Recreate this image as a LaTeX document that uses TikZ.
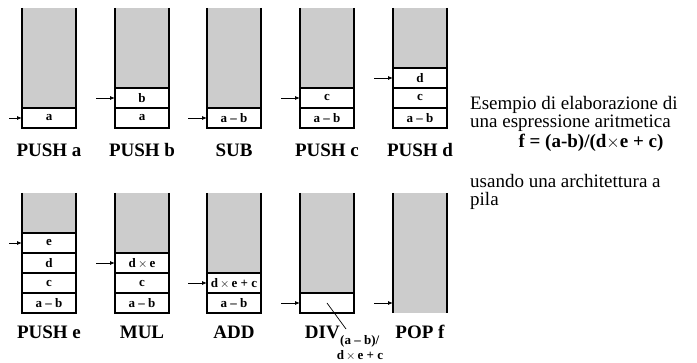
\documentclass[tikz,border=0pt]{standalone}
\usepackage{fontspec}
\setmainfont{Liberation Serif}
\usetikzlibrary{arrows.meta,positioning}

\tikzset{
  bordo/.style={line width=1.2pt},
  grigio/.style={fill=black!20},
  cella/.style={draw, bordo, minimum width=54pt, minimum height=20pt,
    inner sep=0pt, outer sep=0pt, font=\bfseries\fontsize{13}{13}\selectfont},
  freccia/.style={-{Latex[length=5pt,width=4pt]}, line width=0.8pt},
  etichetta/.style={anchor=base, inner sep=0pt, font=\bfseries\fontsize{19}{19}\selectfont},
  testo/.style={anchor=base west, inner sep=0pt, align=left, font=\fontsize{19}{18}\selectfont},
}

\begin{document}
\begin{tikzpicture}[x=1pt,y=-1pt]
    \useasboundingbox (0,0) rectangle (697,363);

    % corpi grigi delle pile (x, fondo, celle piene)
    \foreach \x/\yb/\n in {22/128/1, 115/128/2, 207/128/1, 300/128/2, 393/128/3,
                           22/313/4, 115/313/3, 207/313/2, 300/313/1, 393/313/0} {
        \fill[grigio] (\x,\yb-120) rectangle (\x+54,\yb-20*\n);
        \draw[bordo] (\x,\yb-120) -- (\x,\yb-20*\n) (\x+54,\yb-120) -- (\x+54,\yb-20*\n);
    }

    % PUSH a
    \node[cella, anchor=south west] (p1-1) at (22,128) {a};
    % PUSH b
    \node[cella, anchor=south west] (p2-1) at (115,128) {a};
    \node[cella, above=0pt of p2-1] (p2-2) {b};
    % SUB
    \node[cella, anchor=south west] (p3-1) at (207,128) {a -- b};
    % PUSH c
    \node[cella, anchor=south west] (p4-1) at (300,128) {a -- b};
    \node[cella, above=0pt of p4-1] (p4-2) {c};
    % PUSH d
    \node[cella, anchor=south west] (p5-1) at (393,128) {a -- b};
    \node[cella, above=0pt of p5-1] (p5-2) {c};
    \node[cella, above=0pt of p5-2] (p5-3) {d};
    % PUSH e
    \node[cella, anchor=south west] (p6-1) at (22,313) {a -- b};
    \node[cella, above=0pt of p6-1] (p6-2) {c};
    \node[cella, above=0pt of p6-2] (p6-3) {d};
    \node[cella, above=0pt of p6-3] (p6-4) {e};
    % MUL
    \node[cella, anchor=south west] (p7-1) at (115,313) {a -- b};
    \node[cella, above=0pt of p7-1] (p7-2) {c};
    \node[cella, above=0pt of p7-2] (p7-3) {d\,$\times$\,e};
    % ADD
    \node[cella, anchor=south west] (p8-1) at (207,313) {a -- b};
    \node[cella, above=0pt of p8-1] (p8-2) {d\,$\times$\,e + c};
    % DIV
    \node[cella, anchor=south west] (p9-1) at (300,313) {};
    % POP f
    \coordinate (p10-0) at (393,303);

    % puntatori alla cima
    \coordinate (c1) at (9,118);
    \coordinate (c2) at (96,98);
    \coordinate (c3) at (188,118);
    \coordinate (c4) at (281,98);
    \coordinate (c5) at (374,78);
    \coordinate (c6) at (9,243);
    \coordinate (c7) at (96,263);
    \coordinate (c8) at (188,283);
    \coordinate (c9) at (281,303);
    \coordinate (c10) at (374,303);
    \draw[freccia] (c1) -- (p1-1.west);
    \draw[freccia] (c2) -- (p2-2.west);
    \draw[freccia] (c3) -- (p3-1.west);
    \draw[freccia] (c4) -- (p4-2.west);
    \draw[freccia] (c5) -- (p5-3.west);
    \draw[freccia] (c6) -- (p6-4.west);
    \draw[freccia] (c7) -- (p7-3.west);
    \draw[freccia] (c8) -- (p8-2.west);
    \draw[freccia] (c9) -- (p9-1.west);
    \draw[freccia] (c10) -- (p10-0);

    % istruzioni
    \node[etichetta] (l1) at (49,157) {PUSH a};
    \node[etichetta] (l2) at (142,157) {PUSH b};
    \node[etichetta] (l3) at (234,157) {SUB};
    \node[etichetta] (l4) at (327,157) {PUSH c};
    \node[etichetta] (l5) at (420,157) {PUSH d};
    \node[etichetta] (l6) at (49,339) {PUSH e};
    \node[etichetta] (l7) at (142,339) {MUL};
    \node[etichetta] (l8) at (234,339) {ADD};
    \node[etichetta, anchor=base east] (l9) at (340,339) {DIV};
    \node[etichetta] (l10) at (420,339) {POP f};
    \node[anchor=base west, inner sep=0pt, font=\bfseries\fontsize{13}{13}\selectfont]
        (r1) at (340,345) {(a -- b)/};
    \node[anchor=base, inner sep=0pt, font=\bfseries\fontsize{13}{13}\selectfont]
        (r2) at (360,360) {d\,$\times$\,e + c};
    \coordinate (r0) at (346,329);
    \draw[line width=0.7pt] (p9-1.center) -- (r0);

    % descrizione (base = ultima riga)
    \node[testo] (t1) at (470,128) {Esempio di elaborazione di\\una espressione aritmetica};
    \node[anchor=base, inner sep=0pt, font=\bfseries\fontsize{19}{19}\selectfont]
        (t3) at (591,148) {f = (a-b)/(d$\times$e + c)};
    \node[testo] (t4) at (470,206) {usando una architettura a\\pila};
\end{tikzpicture}
\end{document}
